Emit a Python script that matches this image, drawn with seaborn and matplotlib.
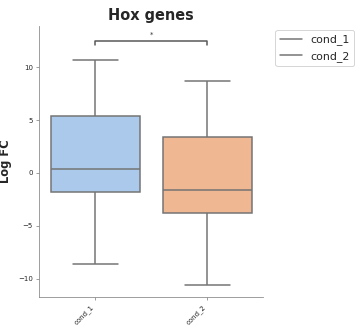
import matplotlib
matplotlib.use("Agg")
import matplotlib.pyplot as plt
from matplotlib.lines import Line2D
import seaborn as sns
import pandas as pd
import numpy as np

conditions = ["cond_1", "cond_2"]
cond_1_values = [-8.6, -1.85, 0.4, 5.4, 10.65]
cond_2_values = [-10.65, -3.8, -1.6, 3.4, 8.7]
title = "Hox genes"
ylabel = "Log FC"
sig_label = "*"

df = pd.DataFrame({
    "condition": [conditions[0]] * len(cond_1_values) + [conditions[1]] * len(cond_2_values),
    "logfc": cond_1_values + cond_2_values,
})

sns.set_style("ticks")
plt.rcParams["font.family"] = ["DejaVu Sans"]

fig = plt.figure(figsize=(362 / 72, 333 / 72), dpi=72)
ax = fig.add_axes([0.109, 0.108, 0.618, 0.814])

sns.boxplot(data=df, x="condition", y="logfc", hue="condition",
            palette="pastel", order=conditions, ax=ax, linewidth=1.5,
            legend=False)

top = max(max(cond_1_values), max(cond_2_values))
y1, y2 = top + 1.45, top + 1.85
ax.plot([0, 0, 1, 1], [y1, y2, y2, y1], color="#555555", lw=1.5)
ax.text(0.5, y2 + 0.3, sig_label, ha="center", va="bottom", fontsize=7, color="#333333")

ax.set_ylim(-11.75, 13.9)
ax.set_xlim(-0.5, 1.5)
ax.set_xlabel("")
ax.set_ylabel(ylabel, fontsize=11.5, fontweight="bold", labelpad=6)
ax.set_title(title, fontsize=14.5, fontweight="bold")
ax.set_yticks([-10, -5, 0, 5, 10])
ax.tick_params(axis="both", labelsize=7, length=3, color="#888888")
plt.setp(ax.get_xticklabels(), rotation=45, ha="right")
for s in ["left", "bottom"]:
    ax.spines[s].set_color("#888888")
sns.despine(ax=ax)

line_color = ax.lines[0].get_color()
handles = [Line2D([], [], color=line_color, lw=1.5) for _ in conditions]
ax.legend(handles, conditions, loc="upper left", bbox_to_anchor=(1.03, 1.005),
          fontsize=11, frameon=True)

fig.savefig("out.png", dpi=72)
